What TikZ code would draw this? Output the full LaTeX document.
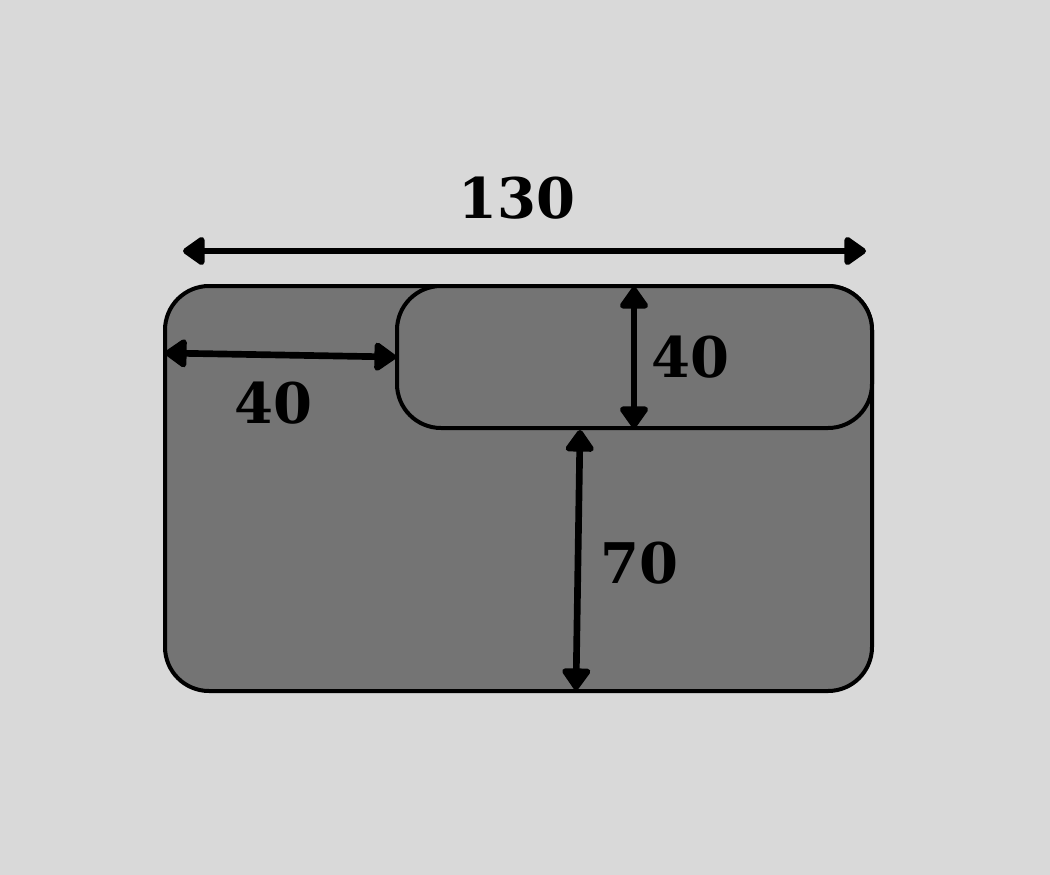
\documentclass[tikz,border=0pt]{standalone}
\usepackage{fontspec}
\setmainfont{DejaVu Serif}
\usetikzlibrary{arrows.meta}
\definecolor{bg}{HTML}{D9D9D9}
\definecolor{plate}{HTML}{747474}
\tikzset{
  platebox/.style={draw=black, line width=3pt, fill=plate},
  dim/.style={line width=5pt, {Triangle[length=18pt,width=24pt,round]}-{Triangle[length=18pt,width=24pt,round]}},
  lbl/.style={font=\bfseries\fontsize{42}{48}\selectfont, inner sep=0pt}
}
\begin{document}
\begin{tikzpicture}[x=0.75pt,y=-0.75pt]
\fill[bg] (0,0) rectangle (1050,875);
\useasboundingbox (0,0) rectangle (1050,875);
\draw[platebox, rounded corners=33pt] (165,286) rectangle (872,691);
\draw[platebox, rounded corners=33pt] (397,286) rectangle (872,428);
% coordinates
\coordinate (tl) at (183,251);
\coordinate (tr) at (866,251);
\coordinate (la) at (165,353);
\coordinate (lb) at (396,357);
\coordinate (ra) at (634,287);
\coordinate (rb) at (634,428);
\coordinate (sa) at (580,430);
\coordinate (sb) at (576,690);
\draw[dim] (tl) -- (tr);
\draw[dim] (la) -- (lb);
\draw[dim] (ra) -- (rb);
\draw[dim] (sa) -- (sb);
\node[lbl] (t130) at (517,198) {130};
\node[lbl] (t40a) at (273,403) {40};
\node[lbl] (t40b) at (690,357) {40};
\node[lbl] (t70) at (639,563) {70};
\end{tikzpicture}
\end{document}
